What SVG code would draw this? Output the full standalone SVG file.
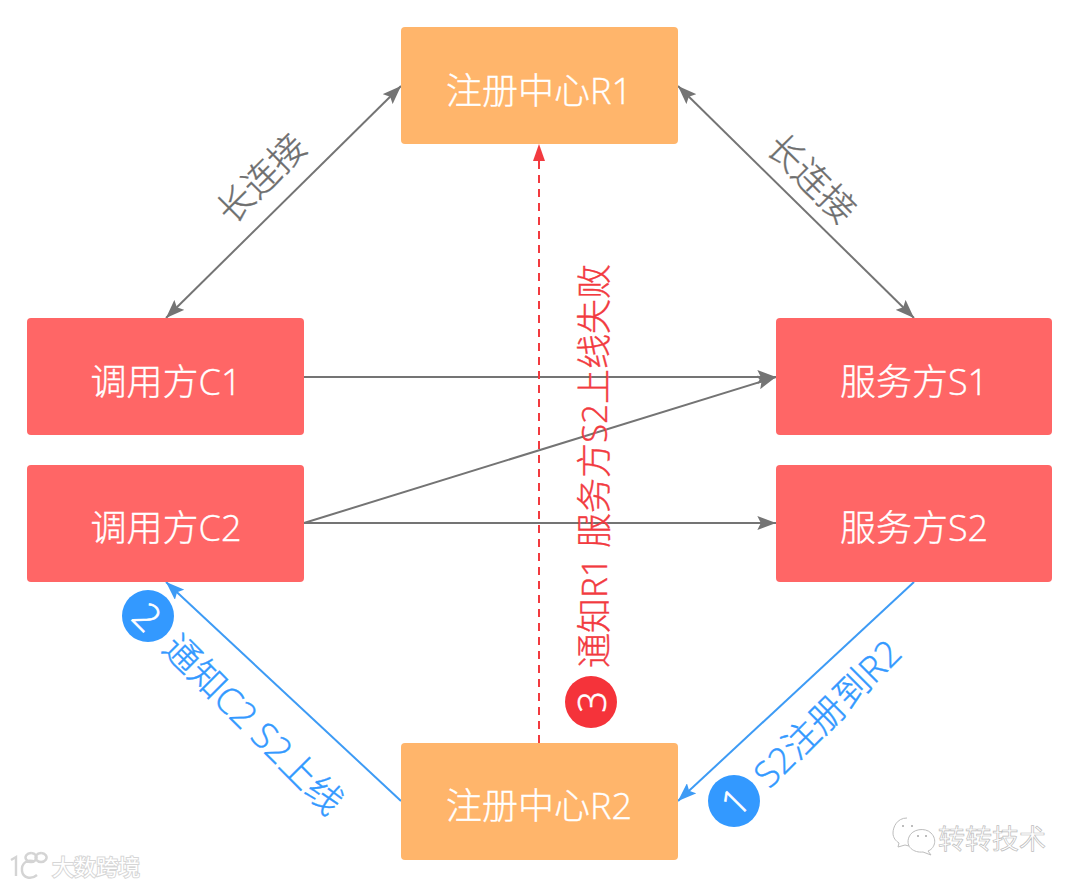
<svg xmlns="http://www.w3.org/2000/svg" width="1080" height="886" viewBox="0 0 1080 886">
<style>
.box{stroke:none}
.red{fill:#ff6666}
.org{fill:#ffb56b}
text{font-family:"Open Sans","Noto Sans CJK SC",sans-serif;font-weight:300;text-anchor:middle;dominant-baseline:central}
.nl{fill:#fff;stroke:#fff;stroke-width:.35;font-size:36px}
.gl{fill:#6e6e6e;stroke:#6e6e6e;stroke-width:.35;font-size:36px}
.bl{fill:#3399ff;stroke:#3399ff;stroke-width:.4;font-size:36px}
.rl{fill:#f23a3f;stroke:#f23a3f;stroke-width:.4;font-size:35px}
.num{fill:#fff;stroke:#fff;stroke-width:.6;font-size:38px}
.g{fill:none;stroke:#747474;stroke-width:2}
.b{fill:none;stroke:#3d9bf5;stroke-width:2}
.r{fill:none;stroke:#f23a3f;stroke-width:2;stroke-dasharray:8 6}
.wl{fill:#fff;stroke:#d6d6d6;stroke-width:2;paint-order:stroke;font-size:22px;font-weight:400;text-anchor:start;dominant-baseline:auto}
.wr{fill:#fff;stroke:#bdbdbd;stroke-width:.7;font-size:27px;font-weight:400;text-anchor:start;dominant-baseline:auto}
</style>
<defs>
<marker id="ag" viewBox="0 0 16 12" refX="16" refY="6" markerWidth="19" markerHeight="14" markerUnits="userSpaceOnUse" orient="auto-start-reverse"><path d="M0 0L16 6L0 12L3 6Z" fill="#747474"/></marker>
<marker id="ab" viewBox="0 0 16 12" refX="16" refY="6" markerWidth="19" markerHeight="14" markerUnits="userSpaceOnUse" orient="auto"><path d="M0 0L16 6L0 12L3 6Z" fill="#3d9bf5"/></marker>
<marker id="ar" viewBox="0 0 17 12" refX="17" refY="6" markerWidth="17" markerHeight="12" markerUnits="userSpaceOnUse" orient="auto"><path d="M0 0L17 6L0 12Z" fill="#f23a3f"/></marker>
</defs>
<rect width="1080" height="886" fill="#fff"/>
<g id="connectors">
<path class="g" d="M401 86L166 318" marker-start="url(#ag)" marker-end="url(#ag)"/>
<path class="g" d="M678 86L914 318" marker-start="url(#ag)" marker-end="url(#ag)"/>
<path class="g" d="M304 377H776" marker-end="url(#ag)"/>
<path class="g" d="M304 523L776 377" marker-end="url(#ag)"/>
<path class="g" d="M304 523H776" marker-end="url(#ag)"/>
<path class="b" d="M914 582L678 801" marker-end="url(#ab)"/>
<path class="b" d="M401 801L166 582" marker-end="url(#ab)"/>
<path class="r" d="M539 743V144" marker-end="url(#ar)"/>
</g>
<g id="R1"><rect class="box org" x="401" y="27" width="277" height="117" rx="4"/><text class="nl" x="539" y="90">注册中心R1</text></g>
<g id="C1"><rect class="box red" x="27" y="318" width="277" height="117" rx="4"/><text class="nl" x="166" y="381">调用方C1</text></g>
<g id="S1"><rect class="box red" x="776" y="318" width="276" height="117" rx="4"/><text class="nl" x="914" y="381">服务方S1</text></g>
<g id="C2"><rect class="box red" x="27" y="465" width="277" height="117" rx="4"/><text class="nl" x="166" y="527">调用方C2</text></g>
<g id="S2"><rect class="box red" x="776" y="465" width="276" height="117" rx="4"/><text class="nl" x="914" y="527">服务方S2</text></g>
<g id="R2"><rect class="box org" x="401" y="743" width="277" height="117" rx="4"/><text class="nl" x="539" y="805">注册中心R2</text></g>
<g id="labels">
<text class="gl" transform="translate(261 178) rotate(-45)">长连接</text>
<text class="gl" transform="translate(812 178) rotate(45)">长连接</text>
<text class="rl" transform="translate(593 466) rotate(-90)">通知R1 服务方S2上线失败</text>
<text class="bl" transform="translate(254 724) rotate(45)">通知C2 S2上线</text>
<text class="bl" transform="translate(827 713) rotate(-45)">S2注册到R2</text>
</g>
<g id="badge1"><circle cx="734" cy="801" r="26" fill="#3399ff"/><text class="num" transform="translate(734 801) rotate(-45)">1</text></g>
<g id="badge2"><circle cx="148" cy="616" r="26" fill="#3399ff"/><text class="num" transform="translate(148 616) rotate(45)">2</text></g>
<g id="badge3"><circle cx="591" cy="702" r="26" fill="#f5333a"/><text class="num" transform="translate(591 702) rotate(-90)">3</text></g>
<g id="watermark-left">
<path d="M11 860L16 857V876M35 862C27 858 21 864 22 871C23 878 31 880 37 875M31 853a5.500 4.500 0 1 0 .1 0M41 853a5.500 4.500 0 1 0 .1 0" fill="none" stroke="#d4d4d4" stroke-width="2.400"/>
<text class="wl" x="52" y="875">大数跨境</text>
</g>
<g id="watermark-right">
<path d="M907 818C897 818 893 827 893 833C893 838 896 841 899 843L898 847L905 845L909 846M909 837C912 829 925 827 931 833C938 840 934 849 928 851L931 855L923 852C914 853 905 847 909 837Z" fill="#fff" stroke="#bdbdbd"/>
<path d="M902 826h2M911 826h2M917 836h2M925 836h2" stroke="#bdbdbd" stroke-width="2"/>
<text class="wr" x="938" y="849">转转技术</text>
</g>
</svg>
